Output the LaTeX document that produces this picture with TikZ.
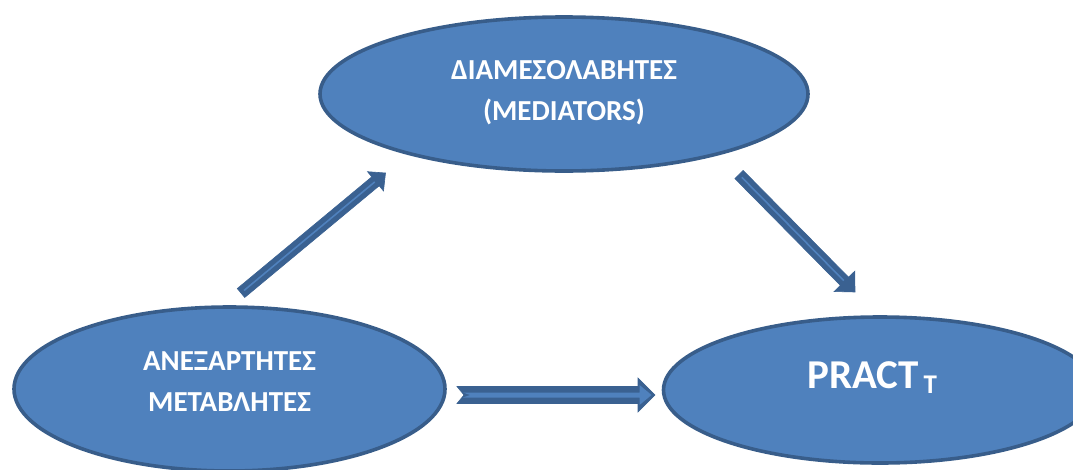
\documentclass[tikz,border=0pt]{standalone}
\usepackage{fontspec}
\setmainfont{Carlito}
\usetikzlibrary{shapes.geometric,calc}

\definecolor{ovalfill}{HTML}{4F81BD}
\definecolor{ovalline}{HTML}{385D8A}
\definecolor{arrowdark}{HTML}{3A6191}
\definecolor{arrowlight}{HTML}{4F81BD}

% Block arrow from coordinate #2 to coordinate #3:
% #4 half shaft width, #5 half head width, #6 head length, #7 tail notch depth
\newcommand\blockarrow[7][]{%
  \coordinate (#2-#3-n) at ($(#3)!#6pt!(#2)$);
  \path[#1] ($(#2)!#4pt!90:(#3)$)
    -- ($(#2-#3-n)!#4pt!90:(#3)$)
    -- ($(#2-#3-n)!#5pt!90:(#3)$)
    -- (#3)
    -- ($(#2-#3-n)!#5pt!-90:(#3)$)
    -- ($(#2-#3-n)!#4pt!-90:(#3)$)
    -- ($(#2)!#4pt!-90:(#3)$)
    -- ($(#2)!#7pt!(#3)$)
    -- cycle;}

\begin{document}
\begin{tikzpicture}[x=1pt,y=-1pt,
  oval/.style={ellipse, draw=ovalline, fill=ovalfill, line width=3.6pt, inner sep=0pt},
  ovaltext/.style={text=white, font=\bfseries\fontsize{29}{41}\selectfont, align=center, inner sep=0pt},
  arrowouter/.style={fill=arrowdark, draw=arrowdark, line width=0.6pt, line join=miter},
  arrowinner/.style={fill=arrowlight},
  stripe/.style={draw=arrowlight, line width=1.6pt}]
\useasboundingbox (0,0) rectangle (1073,469);
\clip (0,0) rectangle (1073,469);

% the three ovals
\node[oval, minimum width=488pt, minimum height=154pt] (M) at (564,94) {};
\node[oval, minimum width=431pt, minimum height=164pt] (I) at (229.5,389) {};
\node[oval, minimum width=433pt, minimum height=146pt] (P) at (880,390) {};

% their texts
\node[ovaltext] (Mt) at ($(M.center)+(0,-1)$) {ΔΙΑΜΕΣΟΛΑΒΗΤΕΣ\\(MEDIATORS)};
\node[ovaltext] (It) at ($(I.center)+(0,-7)$) {ΑΝΕΞΑΡΤΗΤΕΣ\\ΜΕΤΑΒΛΗΤΕΣ};
\node[anchor=base west, text=white, inner sep=0pt,
      font=\bfseries\fontsize{41}{44}\selectfont] (Pt) at ($(P.center)+(-73,-2)$)
  {PRACT\kern5pt\raisebox{-5pt}{\fontsize{27}{30}\selectfont T}};

% arrow ends, placed around the ovals
\coordinate (a1s) at ($(I.center)+(11.5,-96)$);
\coordinate (a1e) at ($(M.center)+(-178.5,79)$);
\coordinate (a2s) at ($(M.center)+(175,80.5)$);
\coordinate (a2e) at ($(P.center)+(-25,-98)$);
\coordinate (a3s) at ($(I.center)+(227.5,6)$);
\coordinate (a3e) at ($(P.center)+(-225,5)$);

% independent variables -> mediators
\blockarrow[arrowouter]{a1s}{a1e}{5.8}{12.5}{13}{0}
\draw[stripe] ($(a1s)!4pt!(a1e)$) -- ($(a1e)!14pt!(a1s)$);

% mediators -> PRACT
\blockarrow[arrowouter]{a2s}{a2e}{5.8}{14.5}{15}{0}
\draw[stripe] ($(a2s)!4pt!(a2e)$) -- ($(a2e)!16pt!(a2s)$);

% independent variables -> PRACT
\blockarrow[arrowouter]{a3s}{a3e}{8.5}{17}{17}{7}
\coordinate (a3si) at ($(a3s)!6pt!(a3e)$);
\coordinate (a3ei) at ($(a3e)!3.5pt!(a3s)$);
\blockarrow[arrowinner]{a3si}{a3ei}{2.5}{10}{12}{7}
\end{tikzpicture}
\end{document}
